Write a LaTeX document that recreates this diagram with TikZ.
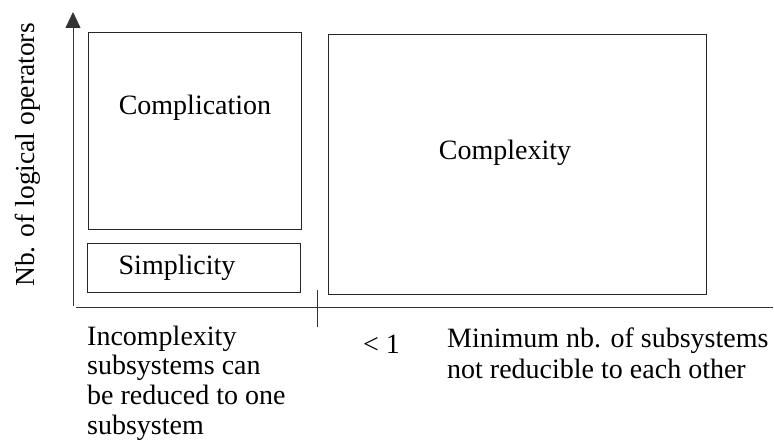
\documentclass[tikz,border=0pt]{standalone}
\usepackage{fontspec}
\setmainfont{Liberation Serif}
\usetikzlibrary{arrows.meta}
\begin{document}
\begin{tikzpicture}[x=1pt,y=-1pt,
  every node/.style={font=\fontsize{28}{31}\selectfont, inner sep=0pt},
  regionbox/.style={draw=black!85, line width=0.9pt, minimum width=#1},
  axisline/.style={draw=black!80, line width=0.9pt},
  txt/.style={anchor=base west, align=left}]
\useasboundingbox (0,0) rectangle (774,441);
% boxes
\node[regionbox=213pt, minimum height=197pt] (complbox) at (194.5,130.5) {};
\node[regionbox=213pt, minimum height=49pt] (simplbox) at (193.5,267.5) {};
\node[regionbox=378pt, minimum height=260pt] (cxbox) at (517,164) {};
% box labels
\node (compl) at (195,108) {Complication};
\node (simpl) at (177,268) {Simplicity};
\node (cx) at (505,153) {Complexity};
% axes
\coordinate (yb) at (73,306);
\coordinate (yt) at (73,12);
\coordinate (xl) at (76,307);
\coordinate (xr) at (773,307);
\coordinate (tt) at (317,290);
\coordinate (tb) at (317,327);
\draw[axisline, -{Triangle[width=15pt,length=16pt]}] (yb) -- (yt);
\draw[axisline] (xl) -- (xr);
\draw[axisline] (tt) -- (tb);
% axis labels
\node[rotate=90, font=\fontsize{27.5}{31}\selectfont] (ylab) at (28,155) {Nb. of logical operators};
\node[txt, font=\fontsize{28}{29.8}\selectfont] (incx) at (87,434.5) {Incomplexity\\subsystems can\\be reduced to one\\subsystem};
\node[txt] (lt1) at (363,353) {< 1};
\node[txt] (minnb) at (447,378) {Minimum nb. of subsystems\\not reducible to each other};
\end{tikzpicture}
\end{document}
